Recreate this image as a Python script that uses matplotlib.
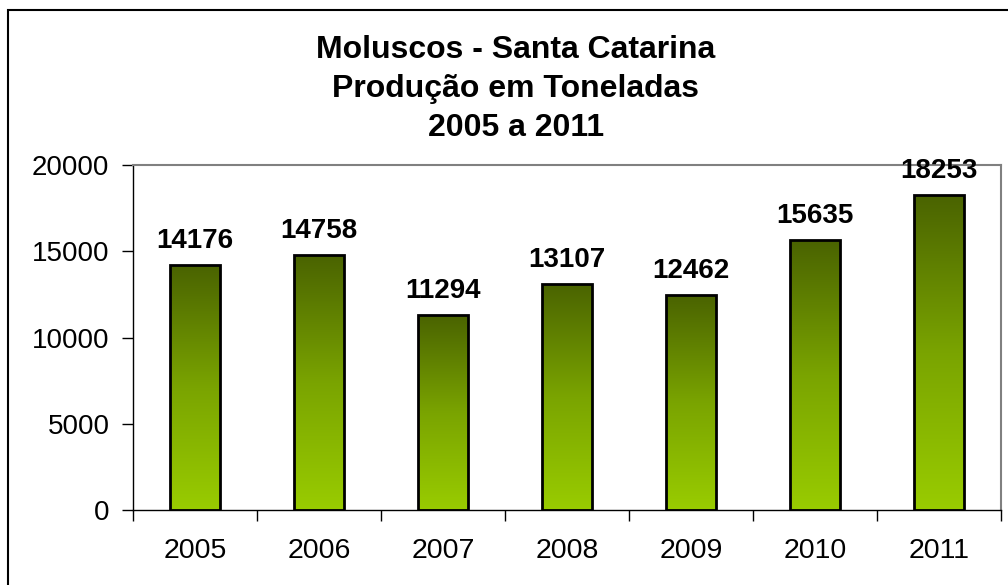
import numpy as np
import matplotlib.pyplot as plt
from matplotlib.colors import LinearSegmentedColormap
from matplotlib.patches import Rectangle

years = ["2005", "2006", "2007", "2008", "2009", "2010", "2011"]
toneladas = [14176, 14758, 11294, 13107, 12462, 15635, 18253]
yticks = [0, 5000, 10000, 15000, 20000]

plt.rcParams["font.family"] = ["Liberation Sans", "DejaVu Sans"]

fig = plt.figure(figsize=(10.08, 5.85), dpi=100)
ax = fig.add_axes([133 / 1008, 1 - 510 / 585, 868 / 1008, 345 / 585])

# outer chart frame (only left/top visible in the reference)
fig.patches.append(Rectangle((8 / 1008, -0.1), 1.2, 1 - 10 / 585 + 0.1,
                             transform=fig.transFigure, fill=False,
                             edgecolor="black", linewidth=1.5))

cmap = LinearSegmentedColormap.from_list("green", ["#99cc00", "#7aa400", "#4a6300"])
grad = np.linspace(0, 1, 256).reshape(-1, 1)

x = np.arange(len(years))
width = 0.4
bars = ax.bar(x, toneladas, width=width, color="none", edgecolor="black",
              linewidth=2, zorder=3)
for b, v in zip(bars, toneladas):
    x0 = b.get_x()
    im = ax.imshow(grad, extent=[x0, x0 + width, 0, v], origin="lower",
                   cmap=cmap, aspect="auto", zorder=2)
    im.set_clip_path(b)
    ax.text(b.get_x() + width / 2, v + 650, str(v), ha="center", va="bottom",
            fontsize=20, fontweight="bold")

ax.set_xlim(-0.5, len(years) - 0.5)
ax.set_ylim(0, 20000)
ax.set_yticks(yticks)
ax.set_yticklabels([str(t) for t in yticks], fontsize=20)
ax.set_xticks(x)
ax.set_xticklabels(years, fontsize=20.5)
ax.tick_params(axis="x", length=0, pad=20)
ax.set_xticks(np.arange(-0.5, len(years)), minor=True)
ax.tick_params(axis="x", which="minor", length=8, width=1, color="black")
ax.tick_params(axis="y", length=8, width=1, pad=9)

ax.spines["top"].set_color("#808080")
ax.spines["right"].set_color("#808080")
ax.spines["top"].set_linewidth(1.5)
ax.spines["right"].set_linewidth(1.5)
ax.spines["left"].set_linewidth(1)
ax.spines["bottom"].set_linewidth(1)

fig.text(516 / 1008, 1 - 89 / 585,
         "Moluscos - Santa Catarina\nProdução em Toneladas\n2005 a 2011",
         ha="center", va="center", fontsize=23, fontweight="bold",
         linespacing=1.4)

fig.savefig("out.png", dpi=100)
